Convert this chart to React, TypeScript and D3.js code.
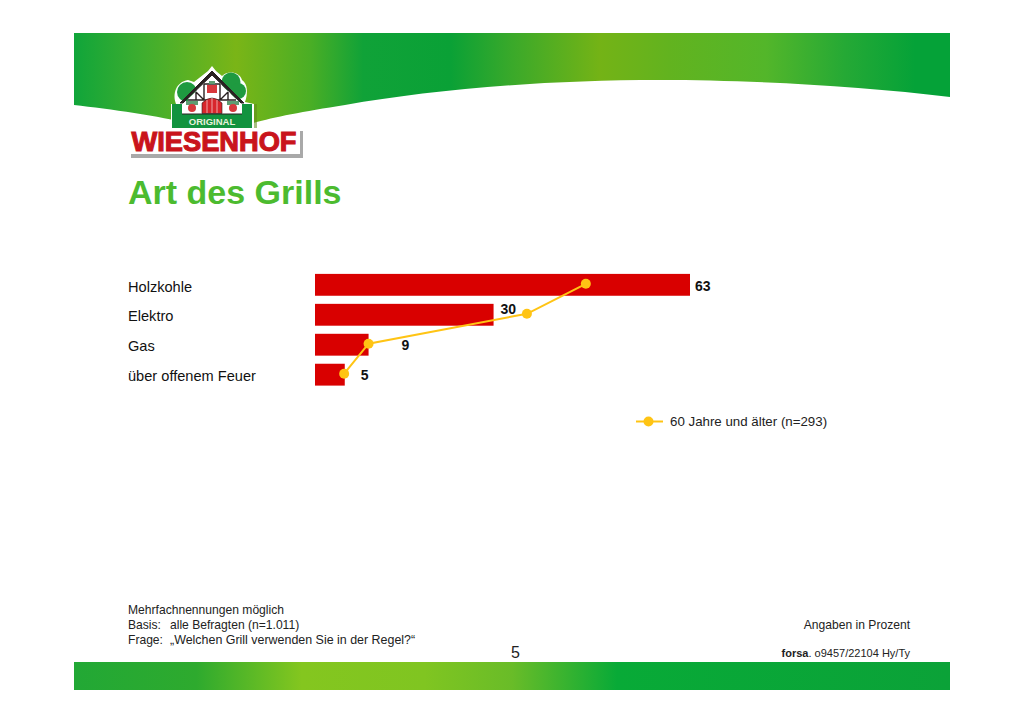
import * as d3 from "d3";

const categories = ["Holzkohle", "Elektro", "Gas", "über offenem Feuer"];
const allValues = [63, 30, 9, 5];
const olderValues = [45.5, 35.6, 9, 4.9];
const legendLabel = "60 Jahre und älter (n=293)";
const notes = ["Mehrfachnennungen möglich", "alle Befragten (n=1.011)", "„Welchen Grill verwenden Sie in der Regel?“"];

const font = "Liberation Sans, Arial, sans-serif";
const red = "#d90000";
const yellow = "#ffc414";
const timber = "#2a2222";

const x = d3.scaleLinear().domain([0, 63]).range([315, 690]);
const y = d3.scaleBand().domain(categories).range([270, 389.5]).paddingInner(0.27).paddingOuter(0.13);

const pointY = (i: number) => y(categories[i])! + y.bandwidth() / 2 - 1;

const line = d3
  .line<number>()
  .x((d) => x(d))
  .y((d, i) => pointY(i));

const labelPos = [
  { dx: 5, dy: 0 },
  { dx: 7, dy: -7 },
  { dx: 33, dy: -1 },
  { dx: 16, dy: -1 },
];

export default function App() {
  return (
    <svg width={1024} height={724} style={{ position: "absolute", left: 0, top: 0, background: "#fff" }} fontFamily={font}>
      <defs>
        <linearGradient id="top" x1="0" x2="1" y1="0" y2="0">
          <stop offset="0" stopColor="#10a53a" />
          <stop offset="0.08" stopColor="#3fae2e" />
          <stop offset="0.185" stopColor="#7ab517" />
          <stop offset="0.27" stopColor="#4aae25" />
          <stop offset="0.33" stopColor="#10a238" />
          <stop offset="0.43" stopColor="#0aa136" />
          <stop offset="0.5" stopColor="#3aa92a" />
          <stop offset="0.6" stopColor="#74b316" />
          <stop offset="0.68" stopColor="#62b31f" />
          <stop offset="0.79" stopColor="#53b62a" />
          <stop offset="0.88" stopColor="#25a935" />
          <stop offset="0.96" stopColor="#05a238" />
          <stop offset="1" stopColor="#05a238" />
        </linearGradient>
        <linearGradient id="bottom" x1="0" x2="1" y1="0" y2="0">
          <stop offset="0" stopColor="#22a835" />
          <stop offset="0.14" stopColor="#2eaa2e" />
          <stop offset="0.26" stopColor="#84c61f" />
          <stop offset="0.4" stopColor="#80c521" />
          <stop offset="0.5" stopColor="#69bc28" />
          <stop offset="0.62" stopColor="#08aa37" />
          <stop offset="1" stopColor="#0ba238" />
        </linearGradient>
      </defs>

      {/* header band */}
      <path
        d="M74,33 H950 V97 C860,86 750,80 660,80 C540,80 430,90 345,105 C300,112 270,118 250,124 H190 C160,116 110,109 74,105 Z"
        fill="url(#top)"
      />
      <rect x={74} y={662} width={876} height={28} fill="url(#bottom)" />

      {/* logo */}
      <g>
        <rect x={176} y={104} width={81} height={25} fill="#5f8a1a" opacity={0.55} />
        <path
          d="M176,104 C172,94 176,82 188,80 L194,82 L208,71 L212,66 L216,71 L222,76 C228,70 240,72 242,80 C248,84 248,94 245,102 L254,104 V128 H171 V104 Z"
          fill="#fff"
        />
        <circle cx={187} cy={92} r={10} fill="#1f9a40" />
        <circle cx={231} cy={82} r={9.5} fill="#1f9a40" />
        <circle cx={238} cy={91} r={8} fill="#1f9a40" />
        <rect x={172} y={104} width={80} height={24} fill="#12933f" />
        <rect x={182} y={101} width={60} height={13} fill="#fff" />
        <path d="M180,103 L212,71 L244,103 L241,103 L212,75 L183,103 Z" fill={timber} stroke={timber} />
        <path d="M188,99 L212,76 L236,99 V101 H188 Z" fill="#fff" />
        <path
          d="M188,100 H236 M196,92 V100 M228,92 V100 M204,84 V100 M220,84 V100 M196,92 L204,100 M228,92 L220,100 M204,84 H220"
          stroke={timber}
          strokeWidth={1.4}
          fill="none"
        />
        <rect x={207} y={85} width={10} height={8} fill="#d8383c" />
        <rect x={209} y={81} width={6} height={3} fill="#5f9c72" />
        <path d="M202,113.5 V103 Q212,93 222,103 V113.5 Z" fill="#d8262c" stroke={timber} strokeWidth={0.6} />
        <path d="M212,98 V113 M207,100 V113 M217,100 V113" stroke="#f3c9c9" strokeWidth={0.8} />
        <rect x={186} y={101} width={12} height={4} fill="#5f9c72" />
        <rect x={227} y={101} width={12} height={4} fill="#5f9c72" />
        <circle cx={192} cy={108} r={4} fill="#d8383c" />
        <circle cx={233} cy={108} r={4} fill="#d8383c" />
        <path d="M182,114 H242" stroke={timber} strokeWidth={1} />
        <text x={212} y={125} textAnchor="middle" fontSize={9.5} fontWeight={700} fill="#e8f2dc">
          ORIGINAL
        </text>
        <rect x={131} y={153} width={172} height={5} fill="#a9a9a9" />
        <rect x={300} y={131} width={3} height={24} fill="#a9a9a9" />
        <rect x={128} y={128} width={172} height={26} fill="#fff" />
        <text
          x={214}
          y={150.5}
          textAnchor="middle"
          fontSize={27}
          fontWeight={700}
          fill="#c9141c"
          stroke="#c9141c"
          strokeWidth={1.1}
          textLength={165}
          lengthAdjust="spacingAndGlyphs"
        >
          WIESENHOF
        </text>
      </g>

      <text x={128} y={204} fontSize={34} fontWeight={700} fill="#4cbb2f">
        Art des Grills
      </text>

      {/* bars */}
      {categories.map((c, i) => (
        <g key={c}>
          <text x={128} y={y(c)! + y.bandwidth() / 2 + (i === 0 ? 7 : 6)} fontSize={14.6} fill="#111">
            {c}
          </text>
          <rect x={x(0)} y={y(c)} width={x(allValues[i]) - x(0)} height={y.bandwidth()} fill={red} />
          <text
            x={x(allValues[i]) + labelPos[i].dx}
            y={y(c)! + y.bandwidth() / 2 + 6 + labelPos[i].dy}
            fontSize={14}
            fontWeight={700}
            fill="#111"
          >
            {allValues[i]}
          </text>
        </g>
      ))}

      {/* older respondents line */}
      <path d={line(olderValues)!} fill="none" stroke={yellow} strokeWidth={2} />
      {olderValues.map((v, i) => (
        <circle key={i} cx={x(v)} cy={pointY(i)} r={5} fill={yellow} />
      ))}

      {/* legend */}
      <line x1={636} x2={663} y1={421.5} y2={421.5} stroke={yellow} strokeWidth={2} />
      <circle cx={648.5} cy={421.5} r={5} fill={yellow} />
      <text x={670} y={426} fontSize={13.3} fill="#222">
        {legendLabel}
      </text>

      {/* footer */}
      <g fontSize={12.1} fill="#222">
        <text x={128} y={614}>{notes[0]}</text>
        <text x={128} y={629}>Basis:</text>
        <text x={170} y={629}>{notes[1]}</text>
        <text x={128} y={644}>Frage:</text>
        <text x={170} y={644} fontSize={12.45}>{notes[2]}</text>
        <text x={910} y={629} textAnchor="end">Angaben in Prozent</text>
      </g>
      <text x={511} y={658} fontSize={16} fill="#222">5</text>
      <text x={910} y={657} textAnchor="end" fontSize={11} fill="#222">
        <tspan fontWeight={700}>forsa</tspan>. o9457/22104 Hy/Ty
      </text>
    </svg>
  );
}
